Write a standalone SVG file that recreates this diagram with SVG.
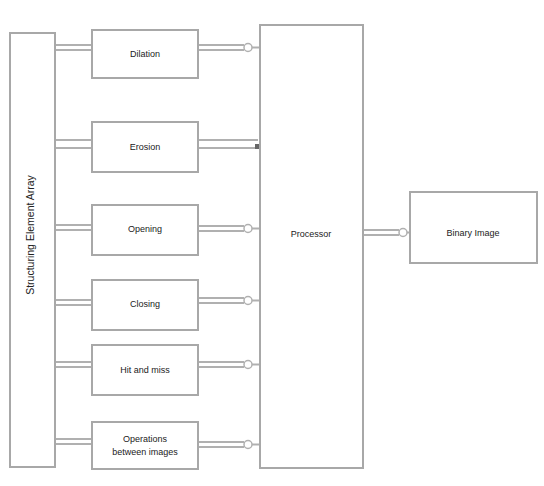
<svg xmlns="http://www.w3.org/2000/svg" width="544" height="486" viewBox="0 0 544 486">
<style>
.box{fill:#fff;stroke:#a8a8a8;stroke-width:2}
.t{font-family:"Liberation Sans",Arial,sans-serif;font-size:9px;fill:#222;text-anchor:middle}
.c{stroke:#b0b0b0;stroke-width:2;fill:none}
.ci{fill:#fff;stroke:#b0b0b0;stroke-width:1.5}
</style>
<rect width="544" height="486" fill="#fff"/>
<g id="connectors">
<path class="c" d="M56 45H92M56 50H92"/>
<path class="c" d="M56 140H92M56 148H92" stroke-width="1.5"/>
<path class="c" d="M56 225H92M56 230H92"/>
<path class="c" d="M56 300H92M56 305H92"/>
<path class="c" d="M56 362H92M56 367H92"/>
<path class="c" d="M56 439H92M56 444H92"/>
<path class="c" d="M198 45H244M198 50H244"/><circle class="ci" cx="248" cy="47.5" r="4"/><path class="c" d="M252 47.5H260"/>
<path class="c" d="M198 140H258M198 148H258" stroke-width="1.5"/><rect x="255" y="144" width="5" height="5" fill="#666"/>
<path class="c" d="M198 226H244M198 231H244"/><circle class="ci" cx="248" cy="228.5" r="4"/><path class="c" d="M252 228.5H260"/>
<path class="c" d="M198 298H244M198 303H244"/><circle class="ci" cx="248" cy="300.5" r="4"/><path class="c" d="M252 300.5H260"/>
<path class="c" d="M198 362H244M198 367H244"/><circle class="ci" cx="248" cy="364.5" r="4"/><path class="c" d="M252 364.5H260"/>
<path class="c" d="M198 442H244M198 447H244"/><circle class="ci" cx="248" cy="444.5" r="4"/><path class="c" d="M252 444.5H260"/>
<path class="c" d="M363 230H399M363 235H399"/><circle class="ci" cx="403" cy="232.5" r="4"/><path class="c" d="M407 232.5H410"/>
</g>
<g id="left"><rect class="box" x="10" y="33" width="45" height="434"/><text class="t" style="font-size:10.5px" transform="translate(34,235) rotate(-90)">Structuring Element Array</text></g>
<g id="n1"><rect class="box" x="92" y="30" width="106" height="48"/><text class="t" x="145" y="57">Dilation</text></g>
<g id="n2"><rect class="box" x="92" y="122" width="106" height="50"/><text class="t" x="145" y="150">Erosion</text></g>
<g id="n3"><rect class="box" x="92" y="205" width="106" height="50"/><text class="t" x="145" y="232">Opening</text></g>
<g id="n4"><rect class="box" x="92" y="280" width="106" height="50"/><text class="t" x="145" y="307">Closing</text></g>
<g id="n5"><rect class="box" x="92" y="345" width="106" height="50"/><text class="t" x="145" y="373">Hit and miss</text></g>
<g id="n6"><rect class="box" x="92" y="422" width="106" height="47"/><text class="t" x="145" y="442">Operations</text><text class="t" x="145" y="455">between images</text></g>
<g id="processor"><rect class="box" x="260" y="25" width="103" height="443"/><text class="t" x="311" y="237">Processor</text></g>
<g id="binary"><rect class="box" x="410" y="192" width="127" height="71"/><text class="t" x="473" y="236">Binary Image</text></g>
</svg>
